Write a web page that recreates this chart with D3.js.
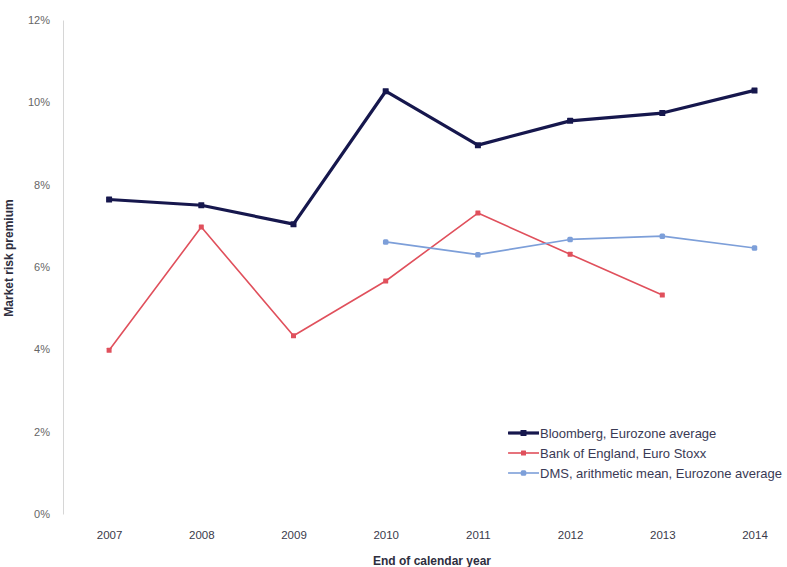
<!DOCTYPE html>
<html>
<head>
<meta charset="utf-8">
<script src="https://cdn.jsdelivr.net/npm/d3@7"></script>
<style>
  body { margin: 0; background: #fff; }
  svg { font-family: "Liberation Sans", Arial, sans-serif; }
</style>
</head>
<body>
<div id="chart"></div>
<script>
// values, in percent
const years = [2007, 2008, 2009, 2010, 2011, 2012, 2013, 2014]
const bloomberg = [7.64, 7.50, 7.04, 10.27, 8.96, 9.55, 9.74, 10.29]
const boe = [3.98, 6.97, 4.33, 5.66, 7.31, 6.31, 5.32, null]
const dms = [null, null, null, 6.61, 6.30, 6.67, 6.75, 6.46]
const yTicks = [0, 2, 4, 6, 8, 10, 12]

const seriesNames = ["Bloomberg, Eurozone average", "Bank of England, Euro Stoxx", "DMS, arithmetic mean, Eurozone average"]
const seriesColors = ["#16174d", "#e0505c", "#7d9fd9"]

const W = 787, H = 567
const LEFT = 63, TOP = 20, BOTTOM = 514, STEP = 92.2

const svg = d3.select("#chart").append("svg")
  .attr("width", W)
  .attr("height", H)

const x = d3.scalePoint().domain(years).range([LEFT, LEFT + STEP * years.length]).padding(0.5)
const y = d3.scaleLinear().domain([0, 12]).range([BOTTOM, TOP])

// y axis
const yAxis = svg.append("g")
  .attr("transform", `translate(${LEFT}, 0)`)
  .call(d3.axisLeft(y).tickValues(yTicks).tickFormat(d => d + "%").tickSize(0).tickPadding(13))
yAxis.select(".domain").attr("stroke", "#d6d6d6")
yAxis.selectAll("text").attr("fill", "#666").attr("font-size", 11)

// x axis (no line)
const xAxis = svg.append("g")
  .attr("transform", `translate(0, ${BOTTOM})`)
  .call(d3.axisBottom(x).tickSize(0).tickPadding(17))
xAxis.select(".domain").remove()
xAxis.selectAll("text").attr("fill", "#3a3a4a").attr("font-size", 11.5)

// axis titles
svg.append("text")
  .attr("x", 432).attr("y", 565)
  .attr("text-anchor", "middle")
  .attr("font-size", 12).attr("font-weight", "bold").attr("fill", "#2e2e3e")
  .text("End of calendar year")

svg.append("text")
  .attr("transform", "translate(13, 258) rotate(-90)")
  .attr("text-anchor", "middle")
  .attr("font-size", 12).attr("font-weight", "bold").attr("fill", "#2e2e3e")
  .text("Market risk premium")

// lines
const series = [bloomberg, boe, dms]
const widths = [3.2, 1.6, 1.6]
const markSize = [6, 5, 5.5]

const line = d3.line()
  .defined(d => d.v != null)
  .x(d => x(d.year))
  .y(d => y(d.v))

series.forEach((vals, i) => {
  const pts = years.map((yr, j) => ({ year: yr, v: vals[j] }))
  svg.append("path")
    .attr("fill", "none")
    .attr("stroke", seriesColors[i])
    .attr("stroke-width", widths[i])
    .attr("stroke-linejoin", "round")
    .attr("d", line(pts))

  svg.selectAll(null)
    .data(pts.filter(d => d.v != null))
    .enter().append("rect")
    .attr("x", d => x(d.year) - markSize[i] / 2)
    .attr("y", d => y(d.v) - markSize[i] / 2)
    .attr("width", markSize[i])
    .attr("height", markSize[i])
    .attr("rx", i == 2 ? 1.5 : 0.5)
    .attr("fill", seriesColors[i])
})

// legend
const legend = svg.append("g").attr("transform", "translate(508, 433)")
seriesNames.forEach((name, i) => {
  const g = legend.append("g").attr("transform", `translate(0, ${i * 20})`)
  g.append("line")
    .attr("x1", 0).attr("x2", 31)
    .attr("stroke", seriesColors[i])
    .attr("stroke-width", widths[i])
  g.append("rect")
    .attr("x", 15.5 - markSize[i] / 2).attr("y", -markSize[i] / 2)
    .attr("width", markSize[i]).attr("height", markSize[i])
    .attr("rx", i == 2 ? 1.5 : 0.5)
    .attr("fill", seriesColors[i])
  g.append("text")
    .attr("x", 32).attr("y", 0).attr("dy", "0.35em")
    .attr("font-size", 13).attr("fill", "#3a3a55")
    .text(name)
})
</script>
</body>
</html>
